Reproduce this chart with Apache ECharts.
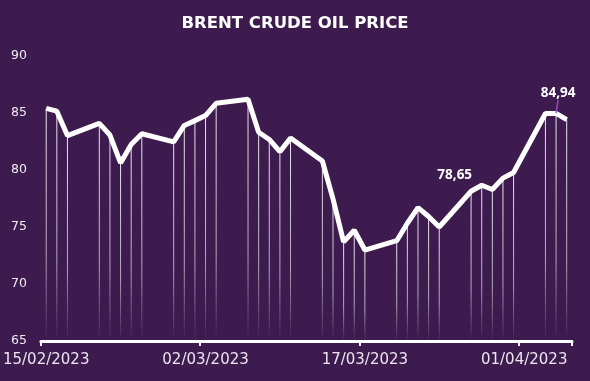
<!DOCTYPE html>
<html>
<head>
<meta charset="utf-8">
<script src="https://cdn.jsdelivr.net/npm/echarts@6/dist/echarts.min.js"></script>
<style>
html,body{margin:0;padding:0;background:#3e1b4f;}
#chart{width:590px;height:381px;}
</style>
</head>
<body>
<div id="chart"></div>
<script>
// Trading days and Brent closing prices
const tradeDates = ['2023-02-15','2023-02-16','2023-02-17','2023-02-20','2023-02-21','2023-02-22','2023-02-23','2023-02-24','2023-02-27','2023-02-28','2023-03-01','2023-03-02','2023-03-03','2023-03-06','2023-03-07','2023-03-08','2023-03-09','2023-03-10','2023-03-13','2023-03-14','2023-03-15','2023-03-16','2023-03-17','2023-03-20','2023-03-21','2023-03-22','2023-03-23','2023-03-24','2023-03-27','2023-03-28','2023-03-29','2023-03-30','2023-03-31','2023-04-03','2023-04-04','2023-04-05'];
const brentPrices = [85.38,85.14,83.00,84.07,83.05,80.60,82.21,83.16,82.45,83.89,84.31,84.75,85.83,86.18,83.29,82.66,81.59,82.78,80.77,77.45,73.69,74.70,72.97,73.79,75.32,76.69,75.91,74.99,78.12,78.65,78.28,79.27,79.77,84.93,84.94,84.40];
const labelledDates = ['2023-03-28','2023-04-04'];
const yTicks = [65,70,75,80,85,90];

// Build a calendar-day category axis (weekends have no data)
function fmt(d){
  const dd = String(d.getUTCDate()).padStart(2,'0');
  const mm = String(d.getUTCMonth()+1).padStart(2,'0');
  return dd + '/' + mm + '/' + d.getUTCFullYear();
}
const categories = [];
const lineData = [];
const barData = [];
const start = new Date(tradeDates[0] + 'T00:00:00Z');
const end = new Date(tradeDates[tradeDates.length-1] + 'T00:00:00Z');
for (let d = new Date(start); d <= end; d.setUTCDate(d.getUTCDate()+1)) {
  const iso = d.toISOString().slice(0,10);
  categories.push(fmt(d));
  const i = tradeDates.indexOf(iso);
  if (i < 0) { lineData.push(null); barData.push(null); continue; }
  const v = brentPrices[i];
  barData.push(v);
  if (labelledDates.indexOf(iso) >= 0) {
    lineData.push({
      value: v,
      label: {show: true, formatter: v.toFixed(2).replace('.', ',')},
      labelLine: {show: iso === '2023-04-04', lineStyle: {color: '#9b45c9', width: 1.5}}
    });
  } else {
    lineData.push(v);
  }
}
const idxA = categories.indexOf('28/03/2023');
const idxB = categories.indexOf('04/04/2023');

const chart = echarts.init(document.getElementById('chart'));
chart.setOption({
  backgroundColor: '#3e1b4f',
  animation: false,
  title: {
    text: 'BRENT CRUDE OIL PRICE',
    left: 'center', top: 10.5,
    textStyle: {color: '#ffffff', fontFamily: 'DejaVu Sans', fontWeight: 'bold', fontSize: 16.5}
  },
  grid: {left: 39, right: 18, top: 55.7, bottom: 40},
  xAxis: {
    type: 'category',
    data: categories,
    boundaryGap: true,
    axisLine: {show: true, lineStyle: {color: '#ffffff', width: 3}},
    axisTick: {show: true, interval: function (i) { return i % 15 === 0; }, length: 5, lineStyle: {color: '#ffffff', width: 2}},
    axisLabel: {interval: 14, color: '#ece4ef', fontFamily: 'DejaVu Sans', fontSize: 15, margin: 12}
  },
  yAxis: {
    type: 'value',
    min: yTicks[0], max: yTicks[yTicks.length-1], interval: 5,
    axisLine: {show: false}, axisTick: {show: false}, splitLine: {show: false},
    axisLabel: {color: '#f0eaf2', fontFamily: 'DejaVu Sans', fontSize: 12.5, margin: 14}
  },
  series: [
    {
      type: 'bar',
      data: barData,
      barWidth: 1,
      z: 1,
      silent: true,
      itemStyle: {
        color: new echarts.graphic.LinearGradient(0,0,0,1,[
          {offset: 0, color: 'rgba(255,255,255,0.9)'},
          {offset: 0.65, color: 'rgba(255,255,255,0.6)'},
          {offset: 1, color: 'rgba(255,255,255,0)'}
        ])
      }
    },
    {
      type: 'line',
      data: lineData,
      connectNulls: true,
      symbol: 'circle',
      symbolSize: 1,
      showSymbol: true,
      itemStyle: {color: 'rgba(255,255,255,0)'},
      z: 3,
      lineStyle: {color: '#ffffff', width: 5},
      label: {
        show: false, position: 'top', distance: 5,
        color: '#ffffff', fontFamily: 'Open Sans', fontWeight: 'bold', fontSize: 13.5
      },
      labelLayout: function (p) {
        if (p.dataIndex === idxA) return {dx: -27, dy: 2};
        if (p.dataIndex === idxB) return {dx: 2, dy: -8};
        return {};
      }
    }
  ]
});
</script>
</body>
</html>
